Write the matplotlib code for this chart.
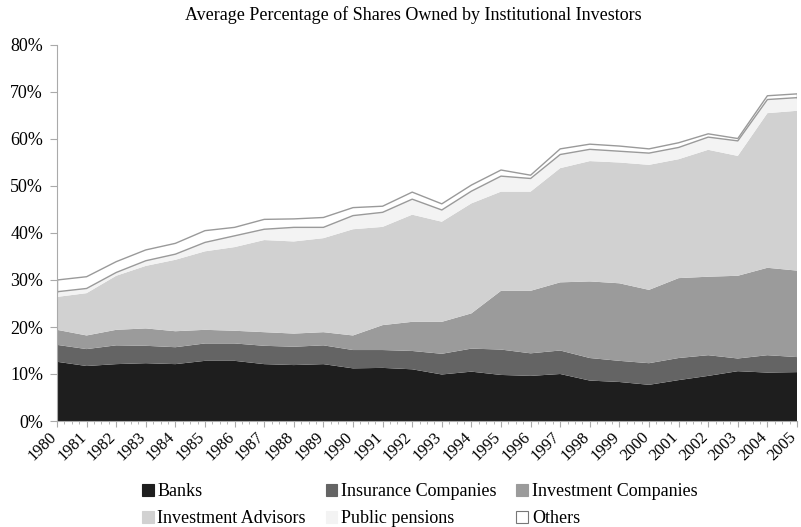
import matplotlib
matplotlib.use("Agg")
import matplotlib.pyplot as plt
import matplotlib.transforms as mtransforms
from matplotlib.patches import Patch
import numpy as np

years = list(range(1980, 2006))
# cumulative tops (percent)
banks_top = [12.6, 11.7, 12.1, 12.3, 12.1, 12.8, 12.8, 12.1, 11.9, 12.1, 11.2, 11.3, 11.0, 9.9, 10.5, 9.8, 9.6, 10.0, 8.6, 8.3, 7.7, 8.7, 9.6, 10.6, 10.3, 10.4]
insurance_top = [16.2, 15.3, 16.1, 16.0, 15.7, 16.5, 16.5, 16.0, 15.8, 16.1, 15.1, 15.1, 14.9, 14.3, 15.4, 15.2, 14.4, 15.0, 13.4, 12.8, 12.3, 13.4, 14.0, 13.3, 14.0, 13.6]
invco_top = [19.4, 18.2, 19.4, 19.7, 19.1, 19.4, 19.2, 18.9, 18.6, 18.9, 18.2, 20.4, 21.1, 21.1, 22.9, 27.7, 27.7, 29.5, 29.7, 29.3, 27.9, 30.4, 30.7, 30.9, 32.6, 32.0]
advisors_top = [26.4, 27.2, 30.9, 33.0, 34.3, 36.1, 37.0, 38.5, 38.2, 38.9, 40.8, 41.3, 43.9, 42.4, 46.3, 48.8, 48.8, 53.8, 55.3, 55.0, 54.5, 55.7, 57.7, 56.4, 65.5, 66.0]
pensions_top = [27.5, 28.2, 31.6, 34.1, 35.5, 38.0, 39.4, 40.8, 41.2, 41.2, 43.7, 44.4, 47.2, 44.9, 48.9, 52.1, 51.6, 56.7, 57.8, 57.4, 57.0, 58.2, 60.4, 59.6, 68.4, 68.8]
others_top = [30.0, 30.7, 33.9, 36.4, 37.8, 40.5, 41.2, 42.9, 43.0, 43.3, 45.4, 45.7, 48.7, 46.2, 50.2, 53.4, 52.3, 57.9, 58.9, 58.5, 57.9, 59.2, 61.1, 60.1, 69.2, 69.6]

series_names = ["Banks", "Insurance Companies", "Investment Companies",
                "Investment Advisors", "Public pensions", "Others"]

banks = np.array(banks_top)
insurance = np.array(insurance_top) - np.array(banks_top)
invco = np.array(invco_top) - np.array(insurance_top)
advisors = np.array(advisors_top) - np.array(invco_top)
pensions = np.array(pensions_top) - np.array(advisors_top)
others = np.array(others_top) - np.array(pensions_top)

colors = ["#1e1e1e", "#646464", "#9b9b9b", "#d1d1d1", "#f3f3f3", "#ffffff"]

plt.rcParams['font.family'] = ['Liberation Serif', 'DejaVu Serif']

fig = plt.figure(figsize=(8.01, 5.27), dpi=100)
ax = fig.add_axes([57/801, 106/527, 740/801, 376/527])

x = np.array(years)
ax.stackplot(x, banks, insurance, invco, advisors, pensions, others,
             colors=colors, linewidth=0)
# outlines for the "Others" band
ax.plot(x, others_top, color="#9a9a9a", lw=1.0)
ax.plot(x, pensions_top, color="#9a9a9a", lw=1.0)
ax.plot([x[0], x[0]], [pensions_top[0], others_top[0]], color="#9a9a9a", lw=1.0)
ax.plot([x[-1], x[-1]], [pensions_top[-1], others_top[-1]], color="#9a9a9a", lw=1.0)

ax.set_xlim(1980, 2005)
ax.set_ylim(0, 80)
ax.set_yticks(range(0, 81, 10))
ax.set_yticklabels([f"{v}%" for v in range(0, 81, 10)], fontsize=13)
ax.set_xticks(years)
ax.set_xticklabels([str(y) for y in years], rotation=45, ha="right",
                   rotation_mode="anchor", fontsize=12)
ax.set_xticks(np.arange(1980, 2005.01, 0.25), minor=True)
ax.tick_params(axis="x", which="minor", length=2, color="#aaaaaa", direction="out")
ax.tick_params(axis="x", which="major", length=4, color="#aaaaaa", pad=2)
ax.tick_params(axis="y", which="major", length=5, color="#aaaaaa", pad=5)
offset = mtransforms.ScaledTranslation(-6/72, 0, fig.dpi_scale_trans)
for lab in ax.get_xticklabels():
    lab.set_transform(lab.get_transform() + offset)

for s in ["top", "right"]:
    ax.spines[s].set_visible(False)
ax.spines["left"].set_color("#aaaaaa")
ax.spines["bottom"].set_color("#aaaaaa")

fig.text(413/801, 1 - 15/527,
         "Average Percentage of Shares Owned by Institutional Investors",
         ha="center", va="center", fontsize=13)

handles = [Patch(facecolor=c, edgecolor=("#777777" if i == 5 else c), lw=0.8)
           for i, c in enumerate(colors)]
order = [0, 3, 1, 4, 2, 5]
fig.legend([handles[i] for i in order], [series_names[i] for i in order],
           loc="upper left", bbox_to_anchor=(142/801, 1 - 483/527), ncol=3,
           frameon=False, fontsize=13, handlelength=0.65, handleheight=0.65,
           handletextpad=0.2, columnspacing=1.1, labelspacing=0.55,
           borderpad=0, borderaxespad=0)

fig.savefig("out.png", dpi=100)
